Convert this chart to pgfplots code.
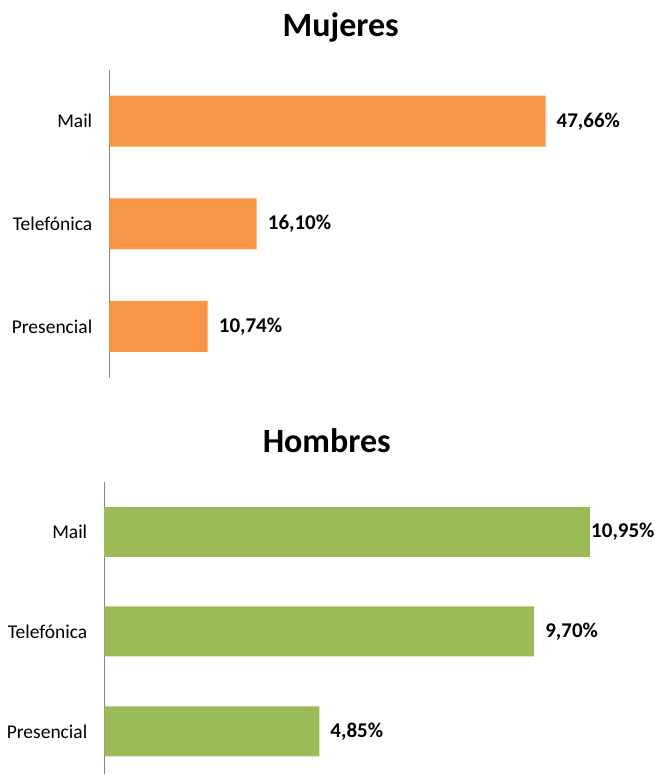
\documentclass[border=0pt]{standalone}
\usepackage{fontspec}
\setmainfont{Carlito}
\usepackage{pgfplots}
\pgfplotsset{compat=1.18}
\definecolor{morange}{HTML}{F79646}
\definecolor{mgreen}{HTML}{9BBB59}
\definecolor{axgray}{HTML}{868686}
\begin{document}
\begin{tikzpicture}
\path (0pt,0pt) rectangle (655pt,-775pt);
\node[anchor=base,font=\fontsize{34}{36}\selectfont\bfseries] at (341pt,-37pt) {Mujeres};
\node[anchor=base,font=\fontsize{34}{36}\selectfont\bfseries] at (327pt,-453pt) {Hombres};
\pgfplotsset{
  mystyle/.style={
    xbar, scale only axis, clip=false,
    y dir=reverse,
    xmin=0,
    ytick={0,1,2},
    yticklabels={Mail,Telefónica,Presencial},
    major tick length=0pt,
    axis x line=none,
    axis y line*=left,
    y axis line style={draw=axgray, line width=1.4pt, -},
    yticklabel style={font=\fontsize{19.5}{21}\selectfont, inner sep=0pt, xshift=-17pt},
    every node near coord/.append style={font=\fontsize{21}{23}\selectfont\bfseries, anchor=west, inner sep=0pt},
    nodes near coords={\pgfmathprintnumber[fixed,fixed zerofill,precision=2,use comma,assume math mode=true]{\pgfplotspointmeta}\%},
    point meta=x,
  }
}
\begin{axis}[mystyle,
  at={(109.5pt,-70pt)}, anchor=north west,
  width=491pt, height=308pt,
  xmax=53.61, ymin=-0.5, ymax=2.5,
  bar width=51pt,
  every node near coord/.append style={xshift=11pt},
]
\addplot[fill=morange, draw=none] coordinates {(47.66,0) (16.10,1) (10.74,2)};
\end{axis}
\begin{axis}[mystyle,
  at={(104.5pt,-482pt)}, anchor=north west,
  width=490pt, height=293pt,
  xmax=11.05, ymin=-0.5, ymax=2.43,
  bar width=50pt,
]
\addplot[fill=mgreen, draw=none, bar shift=0pt,
  every node near coord/.append style={xshift=11pt}] coordinates {(9.70,1) (4.85,2)};
\addplot[fill=mgreen, draw=none, bar shift=0pt,
  every node near coord/.append style={xshift=1.5pt}] coordinates {(10.95,0)};
\end{axis}
\end{tikzpicture}
\end{document}
